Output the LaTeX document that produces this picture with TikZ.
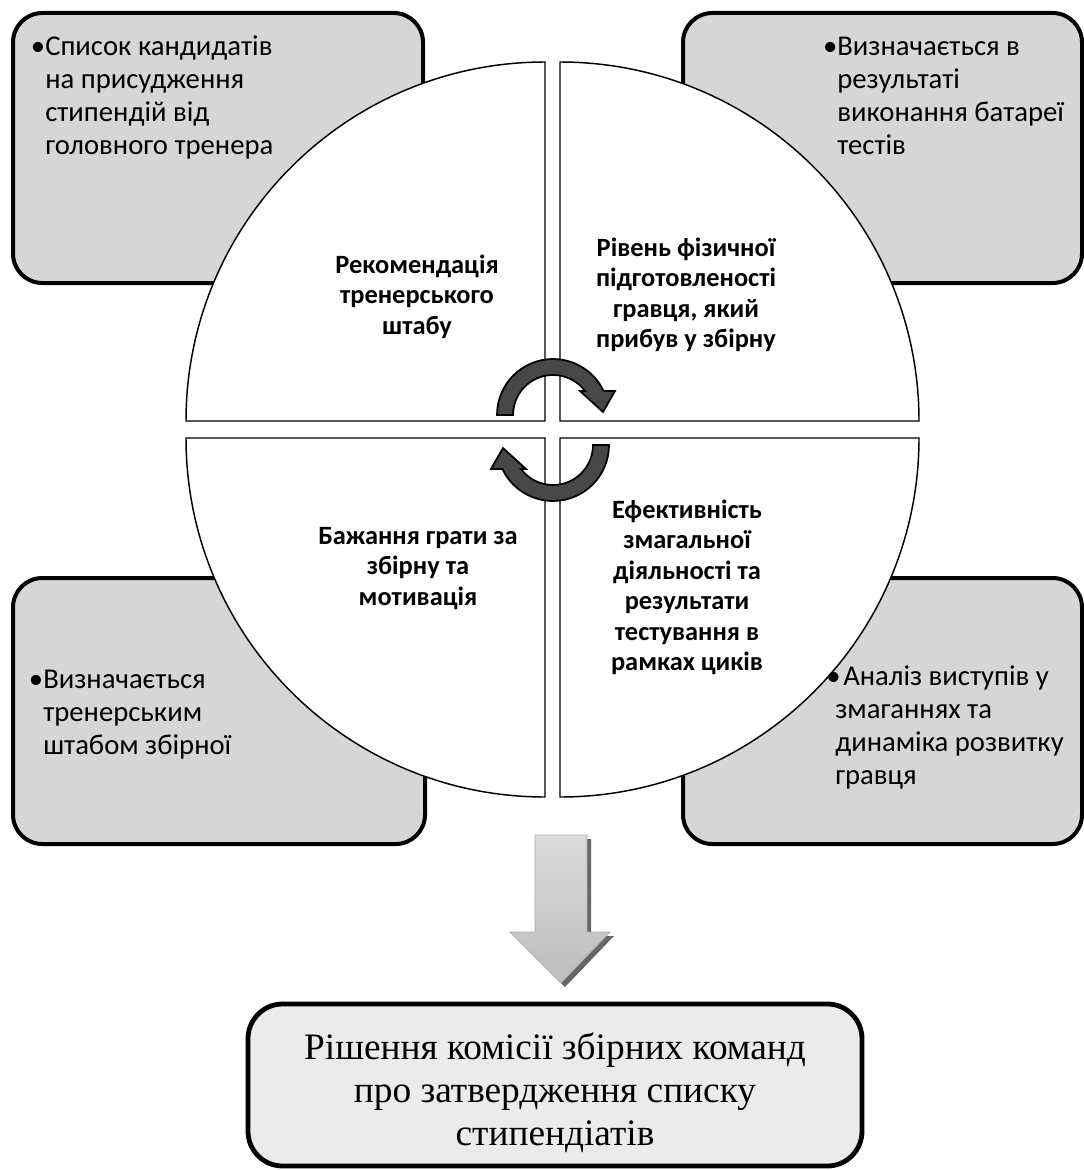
\documentclass[tikz,border=0pt]{standalone}
\usepackage{fontspec}
\setmainfont{Carlito}
\newfontfamily\decisionfont{Liberation Serif}
\newcommand\bulletmark{\leavevmode\llap{•}}
\begin{document}
\begin{tikzpicture}[x=0.75pt,y=-0.75pt,
  sidebox/.style={draw=black, line width=3pt, fill=gray!32, rounded corners=22pt},
  quarter/.style={draw=black, line width=1.1pt, fill=white},
  turnarrow/.style={draw=black, line width=1.3pt, fill=black!72},
  notetext/.style={anchor=base west, inner sep=0pt, font=\fontsize{21.5}{24.75}\selectfont},
  quartertext/.style={anchor=base, inner sep=0pt, font=\bfseries\fontsize{19.8}{22.9}\selectfont},
  decisionbox/.style={draw=black, line width=3.6pt, fill=gray!16, rounded corners=26pt},
  pics/cyclearrow/.style={code={
    \draw[turnarrow] (180:56) arc (180:334.6:56) -- (62,-24) -- (50,-3) -- (27,-24)
      -- (323.1:40) arc (323.1:180:40) -- cycle;
  }}
]
\useasboundingbox (0,0) rectangle (1084,1170);

% outer note boxes
\draw[sidebox] (13,13) rectangle (423,283);
\draw[sidebox] (683,13) rectangle (1082,283);
\draw[sidebox] (13,578) rectangle (425,844);
\draw[sidebox] (683,578) rectangle (1082,844);

% the four quarters of the circle
\draw[quarter] (545,421) -- (186,421) arc (180:270:359) -- cycle;
\draw[quarter] (560,421) -- (560,62) arc (270:360:359) -- cycle;
\draw[quarter] (560,438) -- (919,438) arc (0:90:359) -- cycle;
\draw[quarter] (545,438) -- (545,797) arc (90:180:359) -- cycle;

% circular arrows in the middle
\pic at (553,415) {cyclearrow};
\pic[rotate=180] at (553,445) {cyclearrow};

% note texts
\node[notetext] (noteTL) at (45,56) {\parbox[t]{380pt}{\raggedright\bulletmark Список кандидатів\\на присудження\\стипендій від\\головного тренера}};
\node[notetext] (noteTR) at (837,56) {\parbox[t]{250pt}{\raggedright\bulletmark Визначається в\\результаті\\виконання батареї\\тестів}};
\node[notetext] (noteBL) at (43,688) {\parbox[t]{300pt}{\raggedright\bulletmark Визначається\\тренерським\\штабом збірної}};
\node[notetext] (noteBR) at (835,685) {\parbox[t]{250pt}{\raggedright\leavevmode\llap{•\hspace{-4pt}}\hspace{6pt}Аналіз виступів у\\змаганнях та\\динаміка розвитку\\гравця}};

% quarter texts
\node[quartertext] (qTL) at (417,273) {\parbox[t]{240pt}{\centering Рекомендація\\тренерського\\штабу}};
\node[quartertext] (qTR) at (686,256) {\parbox[t]{240pt}{\centering Рівень фізичної\\підготовленості\\гравця, який\\прибув у збірну}};
\node[quartertext] (qBL) at (418,544) {\parbox[t]{240pt}{\centering Бажання грати за\\збірну та\\мотивація}};
\node[quartertext] (qBR) at (687,518) {\parbox[t]{240pt}{\centering Ефективність\\змагальної\\діяльності та\\результати\\тестування в\\рамках циків}};

% big downward arrow with its shadow
\fill[black!60] (539,839) -- (591,839) -- (591,936) -- (614,936) -- (565,987) -- (514,936) -- (539,936) -- cycle;
\draw[draw=gray!65, line width=0.6pt, top color=gray!28, bottom color=gray!52]
  (535,835) -- (587,835) -- (587,932) -- (610,932) -- (561,983) -- (510,932) -- (535,932) -- cycle;

% decision box
\draw[decisionbox] (248,1004) rectangle (862,1166);
\node[anchor=base, inner sep=0pt, font=\decisionfont\fontsize{28}{32.3}\selectfont] (decision) at (555,1059)
  {\parbox[t]{560pt}{\centering Рішення комісії збірних команд\\про затвердження списку\\стипендіатів}};
\end{tikzpicture}
\end{document}
